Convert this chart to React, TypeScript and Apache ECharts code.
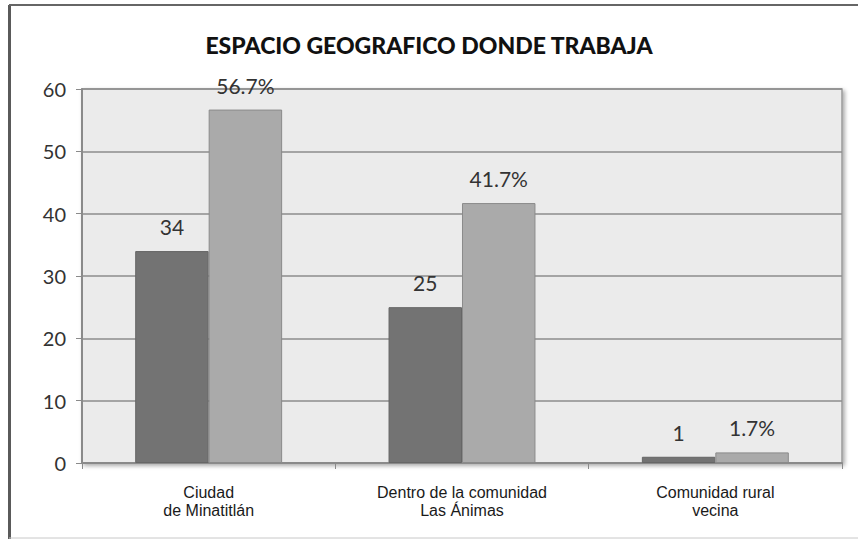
import React, { useEffect, useRef } from "react";
import * as echarts from "echarts";

const title = "ESPACIO GEOGRAFICO DONDE TRABAJA";
const categories = ["Ciudad\nde Minatitlán", "Dentro de la comunidad\nLas Ánimas", "Comunidad rural\nvecina"];
const counts = [34, 25, 1];
const percents = [56.7, 41.7, 1.7];
const yTicks = { min: 0, max: 60, interval: 10 };

export default function App() {
  const ref = useRef<HTMLDivElement>(null);
  useEffect(() => {
    if (!ref.current) return;
    const chart = echarts.init(ref.current, null, { renderer: "svg" });
    chart.setOption({
      animation: false,
      backgroundColor: "#ffffff",
      title: {
        text: title,
        left: 424,
        textAlign: "center",
        top: 28,
        textStyle: { fontFamily: "Lato", fontWeight: 900, fontSize: 23, color: "#111" },
      },
      graphic: [
        { type: "line", shape: { x1: 9.5, y1: 5, x2: 9.5, y2: 539 }, style: { stroke: "#5a5a5a", lineWidth: 3 } },
        { type: "line", shape: { x1: 9, y1: 5, x2: 858, y2: 5 }, style: { stroke: "#666", lineWidth: 2 } },
        { type: "line", shape: { x1: 9, y1: 538, x2: 858, y2: 538 }, style: { stroke: "#c8c8c8", lineWidth: 1 } },
      ],
      grid: {
        left: 82,
        top: 89,
        right: 16,
        bottom: 76,
        show: true,
        backgroundColor: "#ebebeb",
        borderColor: "#9a9a9a",
        borderWidth: 1.5,
        shadowColor: "rgba(0,0,0,0.35)",
        shadowBlur: 4,
        shadowOffsetX: 2,
        shadowOffsetY: 2,
      },
      xAxis: {
        type: "category",
        data: categories,
        axisLine: { show: true, lineStyle: { color: "#8a8a8a", width: 2 } },
        axisTick: { show: true, length: 6, lineStyle: { color: "#8a8a8a" } },
        axisLabel: {
          margin: 20,
          fontFamily: "Liberation Sans",
          fontSize: 16,
          color: "#1a1a1a",
          lineHeight: 18,
        },
      },
      yAxis: {
        type: "value",
        min: yTicks.min,
        max: yTicks.max,
        interval: yTicks.interval,
        axisLine: { show: true, lineStyle: { color: "#8a8a8a", width: 2 } },
        axisTick: { show: true, length: 6, lineStyle: { color: "#8a8a8a" } },
        axisLabel: { margin: 16, fontFamily: "Lato", fontSize: 20, color: "#333" },
        splitLine: { show: true, lineStyle: { color: "#8c8c8c", width: 1.5 } },
      },
      series: [
        {
          type: "bar",
          data: counts,
          barGap: "0%",
          barCategoryGap: "42%",
          itemStyle: { color: "#737373", borderColor: "#666", borderWidth: 1 },
          label: {
            show: true,
            position: "top",
            distance: 14,
            fontFamily: "Lato",
            fontSize: 21,
            color: "#333",
          },
        },
        {
          type: "bar",
          data: percents,
          barGap: "0%",
          barCategoryGap: "42%",
          itemStyle: { color: "#aaaaaa", borderColor: "#8a8a8a", borderWidth: 1 },
          label: {
            show: true,
            position: "top",
            distance: 14,
            fontFamily: "Lato",
            fontSize: 21,
            color: "#333",
            formatter: (p: any) => p.value + "%",
          },
        },
      ],
    });
    return () => chart.dispose();
  }, []);
  return <div ref={ref} style={{ width: 858, height: 539, position: "absolute", left: 0, top: 0 }} />;
}
